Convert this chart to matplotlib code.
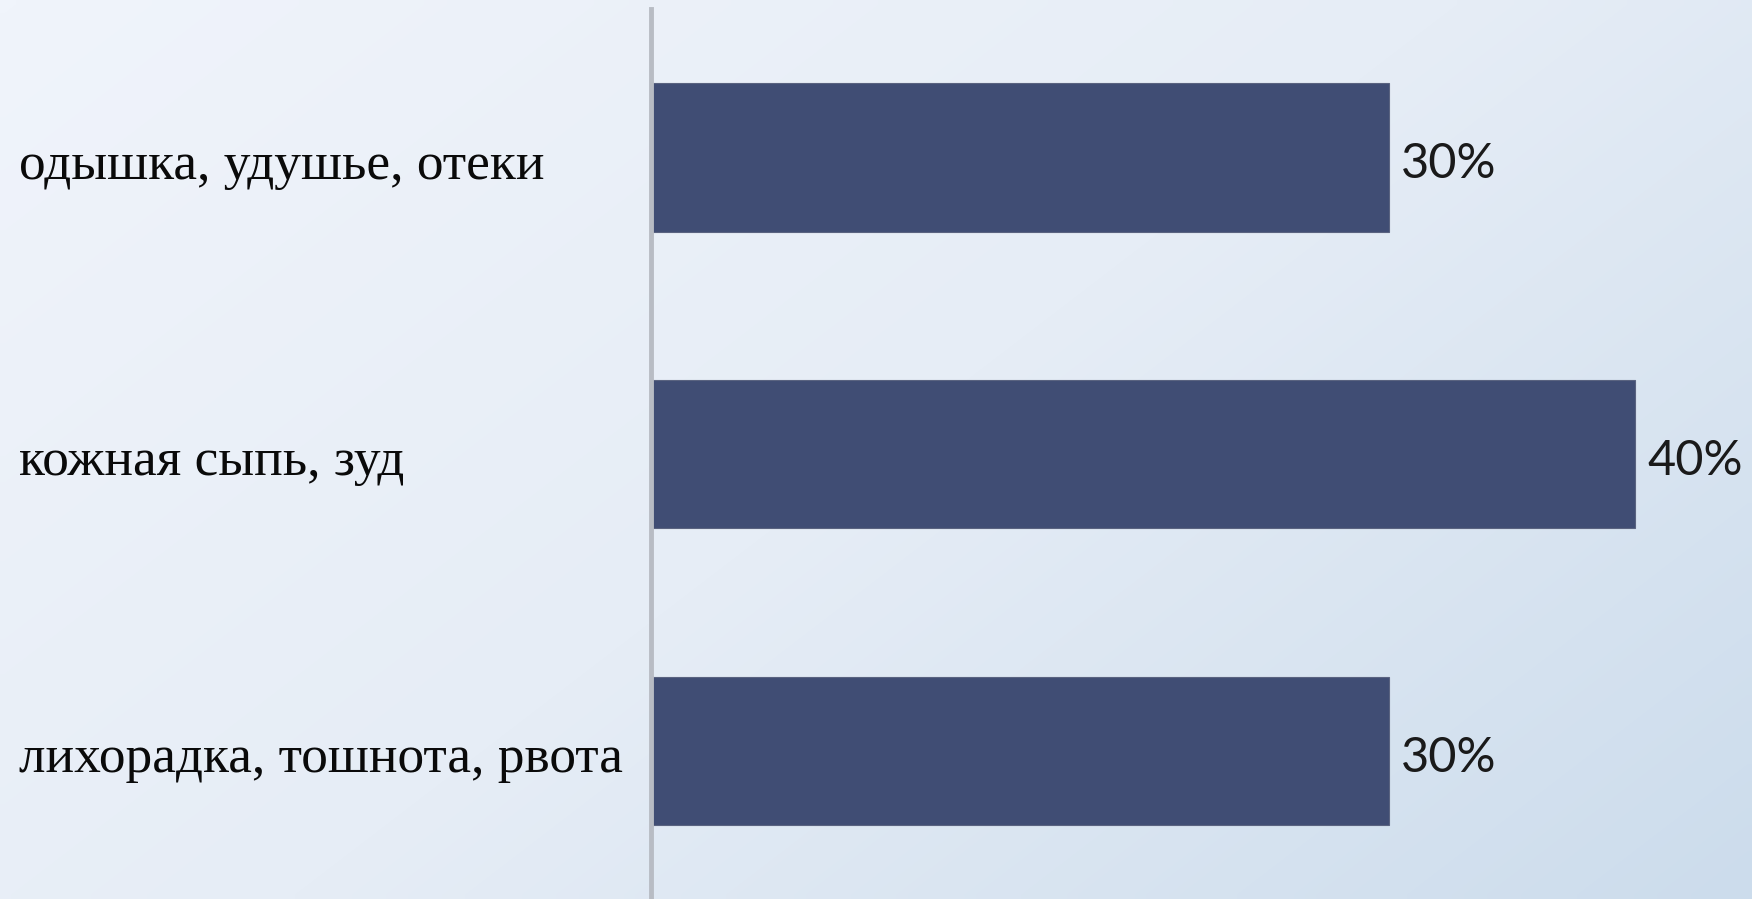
import numpy as np
import matplotlib
matplotlib.use("Agg")
import matplotlib.pyplot as plt
from matplotlib.colors import LinearSegmentedColormap
from matplotlib.transforms import ScaledTranslation

categories = ["одышка, удушье, отеки", "кожная сыпь, зуд", "лихорадка, тошнота, рвота"]
values = [0.30, 0.40, 0.30]
value_labels = ["30%", "40%", "30%"]

W, H, DPI = 17.52, 8.99, 100
fig = plt.figure(figsize=(W, H), dpi=DPI)

# background gradient
bg = fig.add_axes([0, 0, 1, 1], zorder=0)
nx, ny = 200, 100
xx, yy = np.meshgrid(np.linspace(0, 1, nx), np.linspace(0, 1, ny))
t = (0.6 * xx + 0.4 * yy)
cmap = LinearSegmentedColormap.from_list("bg", ["#f0f4fb", "#e6edf6", "#ccdcec"])
bg.imshow(t, cmap=cmap, aspect="auto", extent=[0, 1, 1, 0], interpolation="bilinear")
bg.set_axis_off()

left = 651 / 1752
ax = fig.add_axes([left, 0, 1 - left, 1 - 9 / 899], zorder=1)
ax.patch.set_alpha(0)
y = np.arange(len(categories))
bars = ax.barh(y, values, height=0.5, color="#404d74", edgecolor="#5a6380", linewidth=0.8)
ax.set_xlim(0, (1752 - 651) / 2460)
ax.set_ylim(2.5, -0.5)

for spine in ["top", "right", "bottom"]:
    ax.spines[spine].set_visible(False)
ax.spines["left"].set_color("#b8bcc4")
ax.spines["left"].set_linewidth(3.5)
ax.set_xticks([])
ax.set_yticks(y)
ax.set_yticklabels(categories, fontfamily="Liberation Serif", fontsize=38.4, color="#0a0a0a")
ax.tick_params(axis="y", length=0, pad=(651 - 19) * 72 / DPI)
shift = ScaledTranslation(0, -3 / DPI, fig.dpi_scale_trans)
for lab in ax.get_yticklabels():
    lab.set_horizontalalignment("left")
    lab.set_transform(lab.get_transform() + shift)

for yi, v, s in zip(y, values, value_labels):
    ax.annotate(s, (v, yi), xytext=(12 * 72 / DPI, -7 * 72 / DPI), textcoords="offset points",
                va="center", ha="left", fontfamily="Lato", fontsize=35, color="#1a1a1a")

fig.savefig("out.png", dpi=DPI)
